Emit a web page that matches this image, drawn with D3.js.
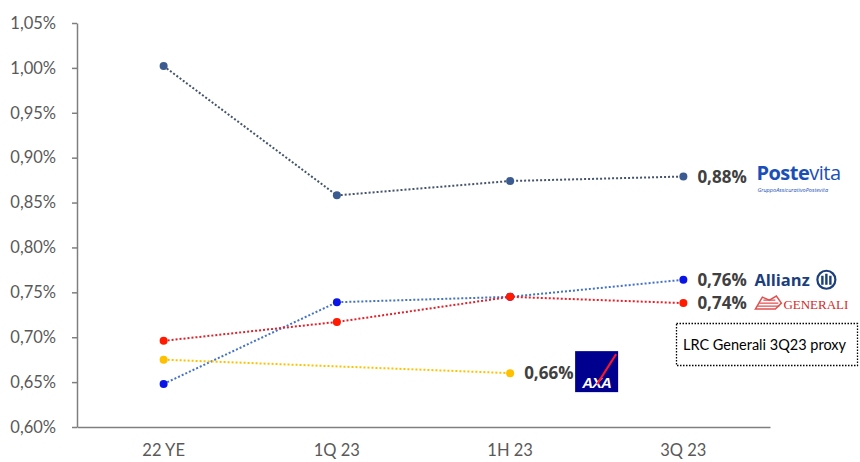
<!DOCTYPE html>
<html><head><meta charset="utf-8">
<script src="https://cdn.jsdelivr.net/npm/d3@7"></script>
<style>body{margin:0;background:#fff}svg{display:block}</style>
</head><body>
<svg id="c" width="860" height="462"></svg>
<script>
const categories = ["22 YE", "1Q 23", "1H 23", "3Q 23"];
const yTicks = [0.60, 0.65, 0.70, 0.75, 0.80, 0.85, 0.90, 0.95, 1.00, 1.05];
const postevita = [1.002, 0.858, 0.874, 0.879];
const allianz = [0.648, 0.739, 0.745, 0.764];
const generali = [0.696, 0.717, 0.745, 0.738];
const axa = [0.675, null, 0.660, null];
const noteText = "LRC Generali 3Q23 proxy";

const svg = d3.select("#c");
const x = d3.scaleBand().domain(categories).range([77, 770]);
const y = d3.scaleLinear().domain([0.60, 1.05]).range([427, 23]);
const fmt = v => d3.format(".2f")(v).replace(".", ",") + "%";
const cx = c => x(c) + x.bandwidth() / 2;

// axes
const gy = svg.append("g").attr("transform", "translate(77,0)")
  .call(d3.axisLeft(y).tickValues(yTicks).tickFormat(fmt).tickSizeInner(5).tickSizeOuter(0).tickPadding(16));
gy.select(".domain").attr("stroke", "#7f7f7f").attr("stroke-width", 1.5);
gy.selectAll(".tick line").attr("stroke", "#7f7f7f").attr("stroke-width", 1.5);
gy.selectAll(".tick text").attr("fill", "#595959").style("font-family", "Lato, 'Open Sans', sans-serif").style("font-size", "16.5px");

const gx = svg.append("g").attr("transform", "translate(0,427)")
  .call(d3.axisBottom(x).tickSize(0).tickPadding(17));
gx.select(".domain").attr("stroke", "#7f7f7f").attr("stroke-width", 1.5);
gx.selectAll(".tick text").attr("fill", "#595959").style("font-family", "Lato, 'Open Sans', sans-serif").style("font-size", "16.5px");

// series
const series = [
  {name: "Postevita", vals: postevita, line: "#44546a", dot: "#3b5a8f"},
  {name: "Allianz", vals: allianz, line: "#4472c4", dot: "#0a14e6"},
  {name: "Generali", vals: generali, line: "#e0202a", dot: "#ff1a00"},
  {name: "AXA", vals: axa, line: "#ffc000", dot: "#ffc000"}
];
series.forEach(s => {
  const pts = categories.map((c, i) => ({c, v: s.vals[i]})).filter(d => d.v != null);
  svg.append("path").datum(pts)
    .attr("d", d3.line().x(d => cx(d.c)).y(d => y(d.v)))
    .attr("fill", "none").attr("stroke", s.line).attr("stroke-width", 2)
    .attr("stroke-dasharray", "2,2");
  svg.selectAll(null).data(pts).enter().append("circle")
    .attr("cx", d => cx(d.c)).attr("cy", d => y(d.v)).attr("r", 4)
    .attr("fill", s.dot);
  const last = pts[pts.length - 1];
  svg.append("text").attr("x", cx(last.c) + 14).attr("y", y(last.v) + 6)
    .attr("fill", "#404040").style("font-family", "'Open Sans', sans-serif")
    .style("font-weight", "bold").style("font-size", "17px").text(fmt(last.v));
});

// logos
const lx = cx("3Q 23");
// Postevita
const pv = svg.append("text").attr("x", lx + 73).attr("y", y(postevita[3]) + 3)
  .attr("fill", "#1a4fb8").style("font-family", "'Open Sans', sans-serif").style("font-size", "20px").style("letter-spacing", "-0.5px");
pv.append("tspan").style("font-weight", "bold").text("Poste");
pv.append("tspan").style("font-weight", "normal").text("vita");
svg.append("text").attr("x", lx + 74).attr("y", y(postevita[3]) + 15)
  .attr("fill", "#1a4fb8").style("font-family", "'Open Sans', sans-serif").style("font-size", "5.6px")
  .style("font-style", "italic").text("GruppoAssicurativoPostevita");
// Allianz
svg.append("text").attr("x", lx + 71).attr("y", y(allianz[3]) + 6)
  .attr("fill", "#1c3f7c").style("font-family", "'Open Sans', sans-serif").style("font-weight", "bold")
  .style("font-size", "16.5px").text("Allianz");
const ac = {x: lx + 143, y: y(allianz[3])};
svg.append("circle").attr("cx", ac.x).attr("cy", ac.y).attr("r", 9).attr("fill", "none").attr("stroke", "#1c3f7c").attr("stroke-width", 2.2);
[-4, 0, 4].forEach((dx, i) => svg.append("rect").attr("x", ac.x + dx - 1.2).attr("y", ac.y - (i === 1 ? 6 : 4)).attr("width", 2.4).attr("height", i === 1 ? 11 : 9).attr("fill", "#1c3f7c"));
// Generali
const gyv = y(generali[3]);
svg.append("path").attr("d", `M${lx+72},${gyv+6} L${lx+79},${gyv-6} L${lx+86},${gyv-3} L${lx+93},${gyv-7} L${lx+98},${gyv} L${lx+92},${gyv+6} Z`)
  .attr("fill", "none").attr("stroke", "#e05050").attr("stroke-width", 1.5);
svg.append("path").attr("d", `M${lx+74},${gyv+3} L${lx+96},${gyv+3} M${lx+76},${gyv} L${lx+95},${gyv} M${lx+80},${gyv-3} L${lx+92},${gyv-3}`)
  .attr("stroke", "#e05050").attr("stroke-width", 1.2);
svg.append("text").attr("x", lx + 100).attr("y", gyv + 6)
  .attr("fill", "#d42a2a").style("font-family", "'Liberation Serif', serif")
  .style("font-size", "13px").text("GENERALI");
// AXA
const ax = cx("1H 23") + 65, ay = y(axa[2]);
svg.append("rect").attr("x", ax).attr("y", ay - 22).attr("width", 43).attr("height", 41).attr("fill", "#00008f");
svg.append("text").attr("x", ax + 21.5).attr("y", ay + 15).attr("text-anchor", "middle")
  .attr("fill", "#fff").style("font-family", "'Liberation Sans', sans-serif").style("font-weight", "bold")
  .style("font-style", "italic").style("font-size", "15px").style("letter-spacing", "-1px").text("AXA");
svg.append("line").attr("x1", ax + 22).attr("y1", ay + 11).attr("x2", ax + 41).attr("y2", ay - 19)
  .attr("stroke", "#ff1721").attr("stroke-width", 2);

// note box
svg.append("rect").attr("x", 676.5).attr("y", 323.5).attr("width", 181).attr("height", 42)
  .attr("fill", "#fff").attr("stroke", "#000").attr("stroke-width", 1.3).attr("stroke-dasharray", "1.5,1.5");
svg.append("text").attr("x", 683).attr("y", 350).attr("fill", "#000")
  .style("font-family", "Lato, 'Open Sans', sans-serif").style("font-size", "14.5px").text(noteText);
</script>
</body></html>
